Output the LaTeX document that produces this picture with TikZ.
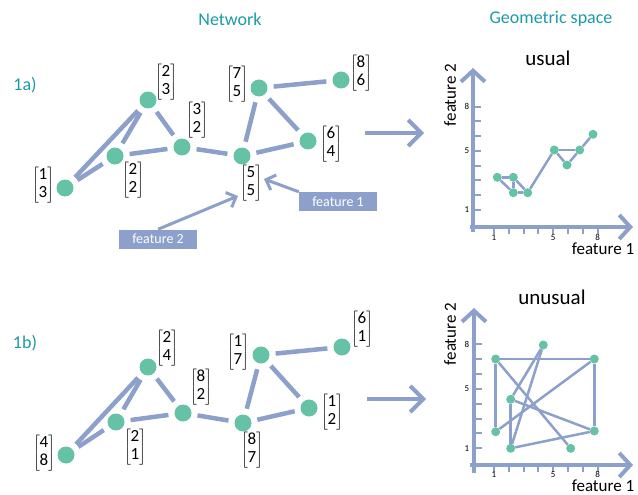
\documentclass[tikz,border=0pt]{standalone}
\usepackage{fontspec}
\setmainfont{Carlito}
\usetikzlibrary{arrows.meta}
\definecolor{ngreen}{HTML}{66C2A5}
\definecolor{eblue}{HTML}{8DA0CB}
\definecolor{tealtxt}{HTML}{1B9AAA}
\newcommand{\vecl}[2]{{\def\arraystretch{0.9}$\left[\begin{tabular}{@{}c@{}}#1\\#2\end{tabular}\right]$}}
\begin{document}
\begin{tikzpicture}[x=1pt,y=-1pt,
  nd/.style={circle, fill=ngreen, minimum size=17pt, inner sep=0pt},
  ed/.style={draw=eblue, line width=4.5pt, shorten >=6pt, shorten <=6pt},
  pn/.style={circle, fill=ngreen, minimum size=9pt, inner sep=0pt},
  pe/.style={draw=eblue, line width=2.5pt},
  lab/.style={inner sep=0pt, font=\fontsize{17}{20}\selectfont},
  ttl/.style={text=tealtxt, font=\fontsize{18}{20}\selectfont},
  panel/.style={text=tealtxt, font=\fontsize{18}{20}\selectfont},
  axisarr/.style={draw=eblue, line width=4pt, -{Straight Barb[length=11pt,width=24pt]}},
  bigarr/.style={draw=eblue, line width=4pt, -{Straight Barb[length=13pt,width=26pt]}},
  featbox/.style={fill=eblue, text=white, font=\fontsize{14}{16}\selectfont, minimum width=78pt, minimum height=19pt, inner sep=0pt},
  featarr/.style={draw=eblue, line width=3pt, -{Straight Barb[length=8pt,width=16pt]}},
  tick/.style={draw=eblue, line width=2pt},
  ticklab/.style={font=\fontsize{9}{10}\selectfont, inner sep=0pt},
  axlab/.style={font=\fontsize{17}{19}\selectfont, inner sep=0pt},
  hlab/.style={axlab, anchor=base, text height=11.5pt, text depth=0pt},
  plottitle/.style={font=\fontsize{21}{23}\selectfont, inner sep=0pt}]
\useasboundingbox (0,0) rectangle (638,495);

% titles
\node[ttl] (tnet) at (230,19) {Network};
\node[ttl] (tgeo) at (551,19) {Geometric space};
\node[panel] (p1a) at (25,85) {1a)};
\node[panel] (p1b) at (25,343) {1b)};

% ===== network 1a =====
\node[nd] (A) at (65,188) {};
\node[nd] (B) at (115,156) {};
\node[nd] (C) at (148,100) {};
\node[nd] (D) at (182,147) {};
\node[nd] (E) at (242,156) {};
\node[nd] (F) at (259,88) {};
\node[nd] (G) at (308,141) {};
\node[nd] (H) at (341,80) {};
\draw[ed] (A) -- (C);
\draw[ed] (A) -- (B);
\draw[ed] (B) -- (C);
\draw[ed] (C) -- (D);
\draw[ed] (B) -- (D);
\draw[ed] (D) -- (E);
\draw[ed] (E) -- (F);
\draw[ed] (E) -- (G);
\draw[ed] (F) -- (G);
\draw[ed] (F) -- (H);
\node[lab] (lA) at (43,185) {\vecl{1}{3}};
\node[lab] (lB) at (133,180) {\vecl{2}{2}};
\node[lab] (lC) at (166,82) {\vecl{2}{3}};
\node[lab] (lD) at (197,120) {\vecl{3}{2}};
\node[lab] (lE) at (251,183) {\vecl{5}{5}};
\node[lab] (lF) at (237,84) {\vecl{7}{5}};
\node[lab] (lG) at (331,144) {\vecl{6}{4}};
\node[lab] (lH) at (361,73) {\vecl{8}{6}};

\node[featbox] (f1) at (338,201.5) {feature 1};
\node[featbox] (f2) at (158,239) {feature 2};
\coordinate (t1) at (264,179);
\coordinate (t2) at (238,196);
\draw[featarr] (f1.north west) -- (t1);
\draw[featarr] (f2.north) -- (t2);

% ===== network 1b =====
\node[nd] (A2) at (66,455) {};
\node[nd] (B2) at (116,422) {};
\node[nd] (C2) at (148,367) {};
\node[nd] (D2) at (183,413) {};
\node[nd] (E2) at (243,423) {};
\node[nd] (F2) at (261,355) {};
\node[nd] (G2) at (309,408) {};
\node[nd] (H2) at (342,347) {};
\draw[ed] (A2) -- (C2);
\draw[ed] (A2) -- (B2);
\draw[ed] (B2) -- (C2);
\draw[ed] (C2) -- (D2);
\draw[ed] (B2) -- (D2);
\draw[ed] (D2) -- (E2);
\draw[ed] (E2) -- (F2);
\draw[ed] (E2) -- (G2);
\draw[ed] (F2) -- (G2);
\draw[ed] (F2) -- (H2);
\node[lab] (lA2) at (44,453) {\vecl{4}{8}};
\node[lab] (lB2) at (135,447) {\vecl{2}{1}};
\node[lab] (lC2) at (167,348) {\vecl{2}{4}};
\node[lab] (lD2) at (201,387) {\vecl{8}{2}};
\node[lab] (lE2) at (252,450) {\vecl{8}{7}};
\node[lab] (lF2) at (238,352) {\vecl{1}{7}};
\node[lab] (lG2) at (332,412) {\vecl{1}{2}};
\node[lab] (lH2) at (362,329) {\vecl{6}{1}};

% big arrows
\coordinate (ba1s) at (365,133);
\coordinate (ba1e) at (424,133);
\coordinate (ba2s) at (367,399);
\coordinate (ba2e) at (426,399);
\draw[bigarr] (ba1s) -- (ba1e);
\draw[bigarr] (ba2s) -- (ba2e);

% ===== plot usual =====
\node[plottitle] (tu) at (548,58) {usual};
\coordinate (ya0) at (473,232);
\coordinate (ya1) at (473,68);
\coordinate (xa0) at (470,227);
\coordinate (xa1) at (633,227);
\foreach \v in {1,...,8} {
  \draw[tick] (473,{210-(\v-1)*14.76}) -- (481,{210-(\v-1)*14.76});
  \draw[tick] ({494+(\v-1)*14.8},227) -- ({494+(\v-1)*14.8},234);
}
\draw[axisarr] (ya0) -- (ya1);
\draw[axisarr] (xa0) -- (xa1);
\node[ticklab] (uy1) at (467,210) {1};
\node[ticklab] (uy5) at (467,151) {5};
\node[ticklab] (uy8) at (467,106.7) {8};
\node[ticklab] (ux1) at (494,237.5) {1};
\node[ticklab] (ux5) at (553.2,237.5) {5};
\node[ticklab] (ux8) at (597.6,237.5) {8};
\node[hlab] (uxl) at (603,254.5) {feature 1};
\node[axlab, rotate=90] (uyl) at (450,95) {feature 2};

\node[pn] (uA) at (497.3,177.3) {};
\node[pn] (uC) at (513.3,177.3) {};
\node[pn] (uB) at (513.3,192.7) {};
\node[pn] (uD) at (527.7,192.7) {};
\node[pn] (uE) at (554.3,150) {};
\node[pn] (uF) at (579.7,150) {};
\node[pn] (uG) at (567,165) {};
\node[pn] (uH) at (593,134.3) {};
\draw[pe] (uA) -- (uC);
\draw[pe] (uA) -- (uB);
\draw[pe] (uB) -- (uC);
\draw[pe] (uC) -- (uD);
\draw[pe] (uB) -- (uD);
\draw[pe] (uD) -- (uE);
\draw[pe] (uE) -- (uF);
\draw[pe] (uE) -- (uG);
\draw[pe] (uF) -- (uG);
\draw[pe] (uF) -- (uH);

% ===== plot unusual =====
\node[plottitle] (tun) at (552,297) {unusual};
\coordinate (yb0) at (474,473);
\coordinate (yb1) at (474,308);
\coordinate (xb0) at (470,465);
\coordinate (xb1) at (633,465);
\foreach \v in {1,...,8} {
  \draw[tick] (474,{448.3-(\v-1)*14.86}) -- (482,{448.3-(\v-1)*14.86});
  \draw[tick] ({494+(\v-1)*14.8},465) -- ({494+(\v-1)*14.8},472);
}
\draw[axisarr] (yb0) -- (yb1);
\draw[axisarr] (xb0) -- (xb1);
\node[ticklab] (vy1) at (467,448.3) {1};
\node[ticklab] (vy5) at (467,388.9) {5};
\node[ticklab] (vy8) at (467,344.3) {8};
\node[ticklab] (vx1) at (494,474.5) {1};
\node[ticklab] (vx5) at (553.2,474.5) {5};
\node[ticklab] (vx8) at (597.6,474.5) {8};
\node[hlab] (vxl) at (603,491.5) {feature 1};
\node[axlab, rotate=90] (vyl) at (450,334) {feature 2};

\node[pn] (vF) at (495.7,359) {};
\node[pn] (vE) at (594.3,359) {};
\node[pn] (vA) at (543.3,345) {};
\node[pn] (vC) at (510.7,399.3) {};
\node[pn] (vG) at (495.7,431.7) {};
\node[pn] (vD) at (594.3,431) {};
\node[pn] (vB) at (510.7,448.3) {};
\node[pn] (vH) at (570.7,448.3) {};
\draw[pe] (vA) -- (vC);
\draw[pe] (vA) -- (vB);
\draw[pe] (vB) -- (vC);
\draw[pe] (vC) -- (vD);
\draw[pe] (vB) -- (vD);
\draw[pe] (vD) -- (vE);
\draw[pe] (vE) -- (vF);
\draw[pe] (vE) -- (vG);
\draw[pe] (vF) -- (vG);
\draw[pe] (vF) -- (vH);
\end{tikzpicture}
\end{document}
